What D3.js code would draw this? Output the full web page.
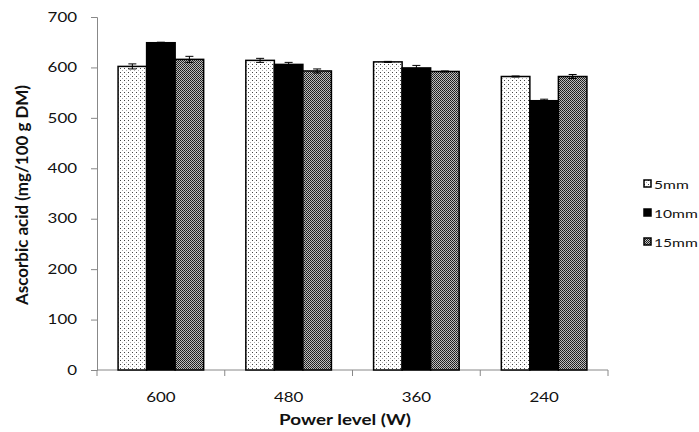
<!DOCTYPE html>
<html><head><meta charset="utf-8">
<script src="https://cdn.jsdelivr.net/npm/d3@7"></script>
<style>body{margin:0;background:#fff}</style>
</head><body>
<svg id="c" width="699" height="432"></svg>
<script>
const categories = ["600","480","360","240"];
const seriesNames = ["5mm","10mm","15mm"];
const values5 = [602, 614, 611, 582];
const values10 = [649, 606, 599, 534];
const values15 = [616, 593, 592, 582];
const err5 = [5, 4, 1, 1];
const err10 = [1, 4, 5, 3];
const err15 = [6, 4, 1, 4];
const yTicks = [0,100,200,300,400,500,600,700];

const series = [
  {name: seriesNames[0], vals: values5, errs: err5, fill: "url(#pDots)"},
  {name: seriesNames[1], vals: values10, errs: err10, fill: "#000"},
  {name: seriesNames[2], vals: values15, errs: err15, fill: "url(#pCheck)"}
];

const svg = d3.select("#c");
const font = "Lato, 'Open Sans', sans-serif";
const STRETCH = 1.3;
function stretch(sel, factor) {
  sel.each(function(){
    const L = this.getComputedTextLength();
    d3.select(this).attr("textLength", L*(factor||STRETCH)).attr("lengthAdjust","spacingAndGlyphs");
  });
}
const defs = svg.append("defs");
const pd = defs.append("pattern").attr("id","pDots").attr("patternUnits","userSpaceOnUse").attr("width",4).attr("height",4);
pd.append("rect").attr("width",4).attr("height",4).attr("fill","#fff");
pd.append("rect").attr("x",0).attr("y",0).attr("width",1).attr("height",1).attr("fill","#444");
pd.append("rect").attr("x",2).attr("y",2).attr("width",1).attr("height",1).attr("fill","#aaa");
const pc = defs.append("pattern").attr("id","pCheck").attr("patternUnits","userSpaceOnUse").attr("width",2).attr("height",2);
pc.append("rect").attr("width",2).attr("height",2).attr("fill","#bdbdbd");
pc.append("rect").attr("x",0).attr("y",0).attr("width",1).attr("height",1).attr("fill","#1a1a1a");
pc.append("rect").attr("x",1).attr("y",1).attr("width",1).attr("height",1).attr("fill","#2a2a2a");

const x0 = d3.scaleBand().domain(categories).range([97, 608]).paddingInner(0).paddingOuter(0);
const inner = 0.67;
const x1 = d3.scaleBand().domain(seriesNames).range([0, x0.bandwidth()*inner]).padding(0);
const off = x0.bandwidth()*(1-inner)/2;
const y = d3.scaleLinear().domain([0,700]).range([370,17]);

// axes
const yAxis = svg.append("g").attr("transform","translate(97,0)")
  .call(d3.axisLeft(y).tickValues(yTicks).tickSize(6).tickPadding(14));
yAxis.select(".domain").attr("stroke","#888");
yAxis.selectAll(".tick line").attr("stroke","#888");
yAxis.selectAll("text").attr("font-family",font).attr("font-size",13).attr("fill","#111");
stretch(yAxis.selectAll("text"));

const xAxis = svg.append("g").attr("transform","translate(0,370)")
  .call(d3.axisBottom(x0).tickSize(0).tickPadding(23));
xAxis.select(".domain").attr("stroke","#888").attr("d","M97,0H608");
xAxis.selectAll("text").attr("font-family",font).attr("font-size",13).attr("fill","#111");
stretch(xAxis.selectAll("text"));
const bounds = categories.map(c => x0(c)).concat([x0(categories[categories.length-1]) + x0.bandwidth()]);
svg.append("g").selectAll("line").data(bounds).join("line")
  .attr("x1",d=>d).attr("x2",d=>d).attr("y1",370).attr("y2",376).attr("stroke","#888");

// bars
series.forEach(s => {
  const g = svg.append("g");
  g.selectAll("rect").data(categories).join("rect")
    .attr("x", (c)=> x0(c)+off+x1(s.name))
    .attr("y", (c,i)=> y(s.vals[i]))
    .attr("width", x1.bandwidth())
    .attr("height", (c,i)=> y(0)-y(s.vals[i]))
    .attr("fill", s.fill).attr("stroke","#000").attr("stroke-width",1.5);
  categories.forEach((c,i) => {
    const cx = x0(c)+off+x1(s.name)+x1.bandwidth()/2;
    const top = y(s.vals[i]+s.errs[i]), bot = y(s.vals[i]-s.errs[i]);
    g.append("line").attr("x1",cx).attr("x2",cx).attr("y1",top).attr("y2",bot).attr("stroke","#000").attr("stroke-width",1);
    g.append("line").attr("x1",cx-4).attr("x2",cx+4).attr("y1",top).attr("y2",top).attr("stroke","#000").attr("stroke-width",1);
    g.append("line").attr("x1",cx-4).attr("x2",cx+4).attr("y1",bot).attr("y2",bot).attr("stroke","#000").attr("stroke-width",1);
  });
});

// axis titles
const xt = svg.append("text").attr("x",345).attr("y",425).attr("text-anchor","middle")
  .attr("font-family",font).attr("font-size",14.5).attr("font-weight","bold").attr("fill","#111")
  .text("Power level (W)");
stretch(xt);
svg.append("text").attr("transform","translate(28,195) scale(1.25,1) rotate(-90)").attr("text-anchor","middle")
  .attr("font-family",font).attr("font-size",14).attr("font-weight","bold").attr("fill","#111")
  .attr("textLength",220).attr("lengthAdjust","spacingAndGlyphs")
  .text("Ascorbic acid (mg/100 g DM)");

// legend
const lg = svg.append("g");
series.forEach((s,i) => {
  const ly = 184 + i*29;
  lg.append("rect").attr("x",644).attr("y",ly-4).attr("width",7).attr("height",7)
    .attr("fill",s.fill).attr("stroke","#000").attr("stroke-width",1.5);
  const t = lg.append("text").attr("x",654).attr("y",ly+4.5).attr("font-family",font).attr("font-size",12).attr("fill","#111").text(s.name);
  stretch(t);
});
</script>
</body></html>
